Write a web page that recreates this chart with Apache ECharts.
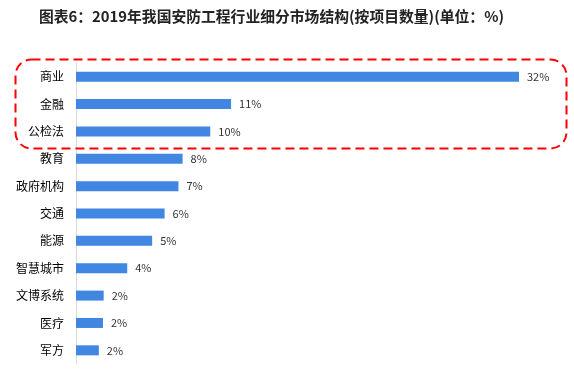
<!DOCTYPE html>
<html>
<head>
<meta charset="utf-8">
<script src="https://cdn.jsdelivr.net/npm/echarts@6/dist/echarts.min.js"></script>
<style>html,body{margin:0;padding:0;background:#fff}#c{width:574px;height:380px}</style>
</head>
<body>
<div id="c"></div>
<script>
const categories = ['商业','金融','公检法','教育','政府机构','交通','能源','智慧城市','文博系统','医疗','军方'];
const values = [32, 11.2, 9.7, 7.7, 7.4, 6.4, 5.5, 3.7, 2.0, 1.95, 1.65];
const valueLabels = ['32%','11%','10%','8%','7%','6%','5%','4%','2%','2%','2%'];
const titleText = '图表6：2019年我国安防工程行业细分市场结构(按项目数量)(单位：%)';

const chart = echarts.init(document.getElementById('c'), null, {renderer:'canvas'});
chart.setOption({
  backgroundColor:'#fff',
  animation:false,
  title:{
    text:titleText,
    left:34, top:4,
    textStyle:{fontFamily:'"Noto Sans CJK SC", sans-serif', fontSize:14.8, fontWeight:'bold', color:'#222'}
  },
  grid:{left:76, right:55, top:63, bottom:16, containLabel:false},
  xAxis:{type:'value', min:0, max:32, show:false},
  yAxis:{
    type:'category', inverse:true, data:categories,
    axisLine:{show:true, lineStyle:{color:'#d9d9d9', width:1}},
    axisTick:{show:false},
    axisLabel:{margin:12, color:'#000', fontSize:12, fontFamily:'"Noto Sans CJK SC", sans-serif'}
  },
  series:[{
    type:'bar', data:values, barWidth:10,
    itemStyle:{color:'#4186E0'},
    label:{show:true, position:'right', distance:8, color:'#333', fontSize:11,
      fontFamily:'"Noto Sans CJK SC", sans-serif',
      formatter:p=>valueLabels[p.dataIndex]}
  }],
  graphic:[{
    type:'rect', left:13, top:57, z:100,
    shape:{width:551, height:89, r:16},
    style:{fill:'none', stroke:'#ff0000', lineWidth:2, lineDash:[9,5]}
  }]
});
</script>
</body>
</html>
